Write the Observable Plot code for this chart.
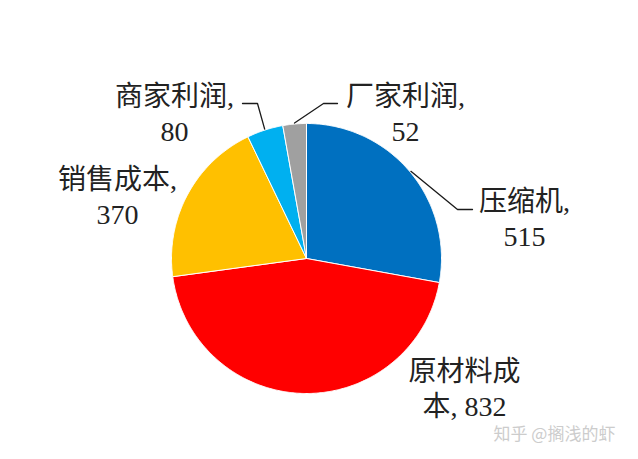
<!DOCTYPE html>
<html>
<head>
<meta charset="utf-8">
<script src="https://cdn.jsdelivr.net/npm/d3@7"></script>
<script src="https://cdn.jsdelivr.net/npm/@observablehq/plot@0.6"></script>
<style>
  html, body { margin: 0; padding: 0; background: #fff; }
  #chart { position: relative; width: 638px; height: 459px; }
</style>
</head>
<body>
<div id="chart"></div>
<script>
// ---- data ----
const categories = ["压缩机", "原材料成本", "销售成本", "商家利润", "厂家利润"];
const values = [515, 832, 370, 80, 52];
const sliceColors = ["#0070C0", "#FF0000", "#FFC000", "#00B0F0", "#A0A0A0"];
const watermarkText = "知乎 @搁浅的虾";

// ---- layout (pixel positions, not data) ----
const W = 638, H = 459;
const pie = { cx: 306, cy: 258, r: 135 };
const labelFont = "'Liberation Serif', 'Noto Sans CJK SC', serif";
const labelLayout = {
  "压缩机":     { x: 524, y: 217, wrap: null, leader: [[457, 209], [472, 209]] },
  "原材料成本": { x: 464, y: 387, wrap: 4,    leader: null },
  "销售成本":   { x: 117, y: 195, wrap: null, leader: null },
  "商家利润":   { x: 174, y: 112, wrap: null, leader: [[257, 103], [242, 103]] },
  "厂家利润":   { x: 405, y: 112, wrap: null, leader: [[323, 103], [337, 103]] }
};

// ---- geometry from values ----
const arcs = d3.pie().sort(null)(values);
const pt = (a, r) => [pie.cx + r * Math.sin(a), pie.cy - r * Math.cos(a)];

const sliceRows = [];
arcs.forEach((a, i) => {
  const cat = categories[i];
  sliceRows.push({ cat, x: pie.cx, y: pie.cy });
  const n = Math.max(2, Math.ceil((a.endAngle - a.startAngle) / (Math.PI / 360)));
  for (let k = 0; k <= n; k++) {
    const t = a.startAngle + (a.endAngle - a.startAngle) * k / n;
    const [x, y] = pt(t, pie.r);
    sliceRows.push({ cat, x, y });
  }
  sliceRows.push({ cat, x: pie.cx, y: pie.cy });
});

const leaderRows = [];
arcs.forEach((a, i) => {
  const cat = categories[i];
  const L = labelLayout[cat];
  if (!L.leader) return;
  const mid = (a.startAngle + a.endAngle) / 2;
  const [sx, sy] = pt(mid, pie.r + 1);
  leaderRows.push({ cat, x: sx, y: sy });
  L.leader.forEach(([x, y]) => leaderRows.push({ cat, x, y }));
});

const labelRows = categories.map((cat, i) => {
  const L = labelLayout[cat];
  let text;
  if (L.wrap) text = cat.slice(0, L.wrap) + "\n" + cat.slice(L.wrap) + ", " + values[i];
  else text = cat + ",\n" + values[i];
  return { cat, x: L.x, y: L.y, text };
});

const chart = Plot.plot({
  width: W,
  height: H,
  margin: 0,
  style: { background: "#fff", overflow: "visible" },
  x: { domain: [0, W], range: [0, W], axis: null },
  y: { domain: [0, H], range: [0, H], axis: null },
  color: { domain: categories, range: sliceColors },
  marks: [
    Plot.line(sliceRows, {
      x: "x", y: "y", z: "cat", fill: "cat",
      stroke: "white", strokeWidth: 1, strokeLinejoin: "round"
    }),
    Plot.line(leaderRows, {
      x: "x", y: "y", z: "cat", stroke: "#1a1a1a", strokeWidth: 1.3
    }),
    Plot.text(labelRows, {
      x: "x", y: "y", text: "text",
      textAnchor: "middle", lineAnchor: "middle", lineHeight: 1.25,
      fontSize: 28, fontFamily: labelFont, fill: "#222"
    }),
    Plot.text([watermarkText], {
      x: () => 554, y: () => 434, text: d => d,
      textAnchor: "middle", fontSize: 17,
      fontFamily: "'Noto Sans CJK SC', sans-serif", fill: "#cccccc"
    })
  ]
});

document.getElementById("chart").appendChild(chart);
</script>
</body>
</html>
